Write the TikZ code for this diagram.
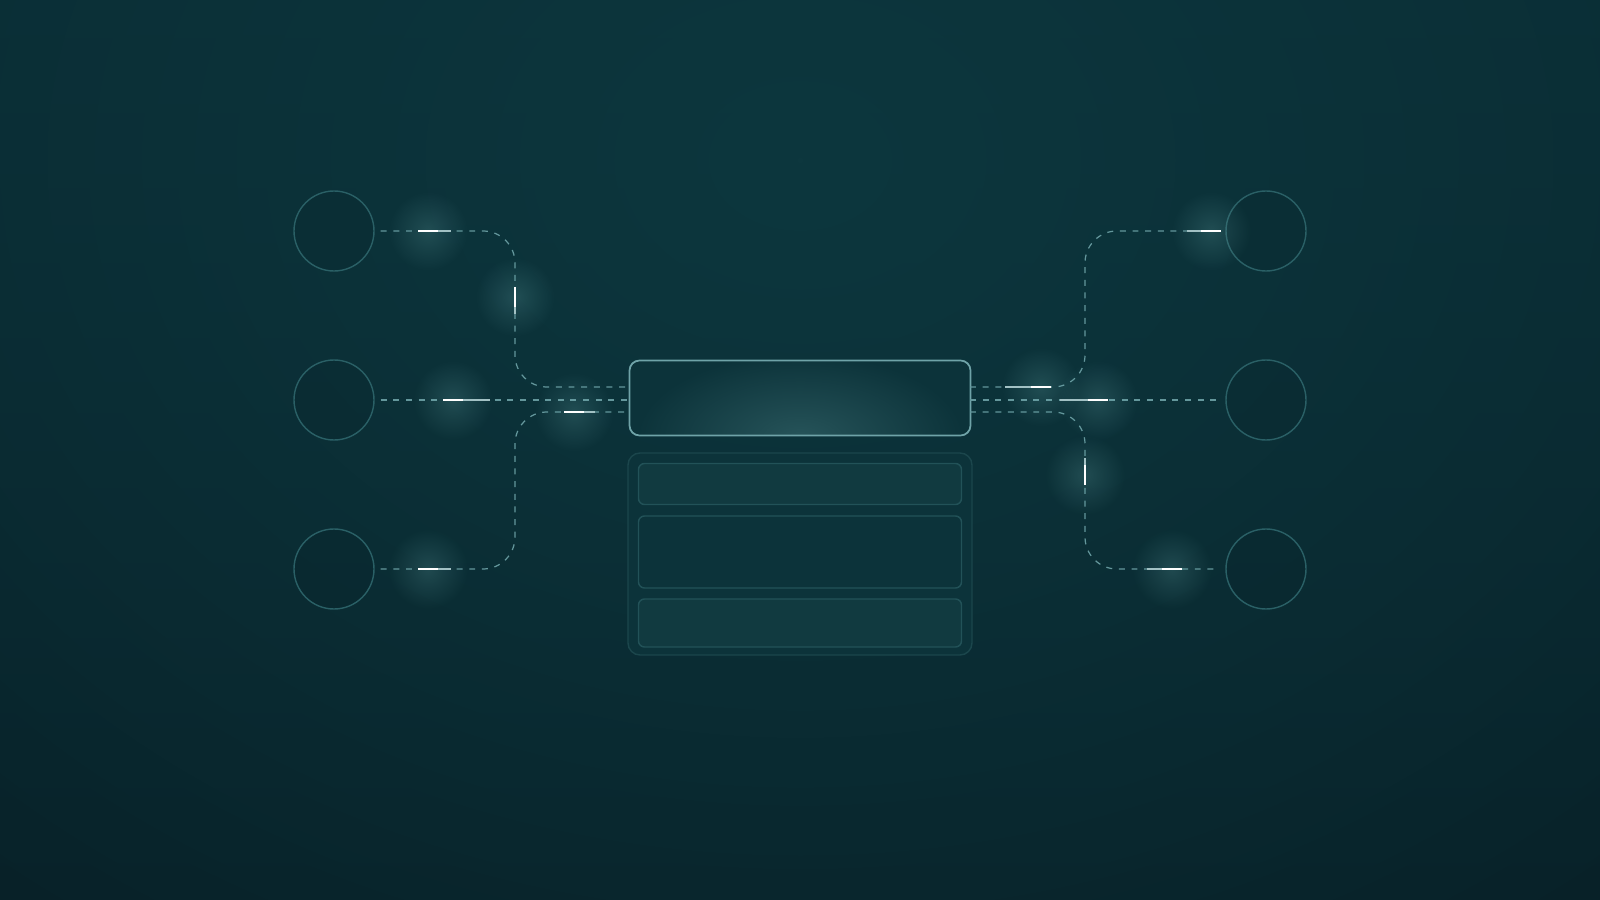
\documentclass[tikz,border=0pt]{standalone}
\usetikzlibrary{fadings}
\definecolor{bgtop}{HTML}{092931}
\definecolor{bgbot}{HTML}{071D24}
\definecolor{bgglow}{HTML}{0D373E}
\definecolor{wire}{HTML}{64979C}
\definecolor{ring}{HTML}{2A6066}
\definecolor{frame}{HTML}{6FA3A8}
\definecolor{panel}{HTML}{0C333A}
\definecolor{panelline}{HTML}{1B464C}
\definecolor{rowfill}{HTML}{113A40}
\definecolor{rowline}{HTML}{225258}
\definecolor{halocol}{HTML}{6FB0B2}
\tikzfading[name=halofade, inner color=transparent!0, outer color=transparent!100]
\begin{document}
\begin{tikzpicture}[x=0.1mm, y=-0.1mm,
  hub/.style={circle, draw=ring, line width=.4pt, fill=bgbot, fill opacity=.15, draw opacity=1, minimum size=8mm, inner sep=0pt},
  core/.style={rectangle, rounded corners=1mm, draw=frame, line width=.5pt, minimum width=34.1mm, minimum height=7.5mm},
  tray/.style={rectangle, rounded corners=1.2mm, draw=panelline, line width=.4pt, fill=panel, minimum width=34.4mm, minimum height=20.2mm},
  slot/.style={rectangle, rounded corners=.6mm, draw=rowline, line width=.4pt, minimum width=32.3mm},
  link/.style={draw=wire, line width=.35pt, dash pattern=on 1.7pt off 1.9pt, rounded corners=3.2mm},
  spark/.style={draw=white, line width=.65pt},
  trail/.style={draw=wire!60!white, line width=.5pt},
  halo/.style={fill=halocol, opacity=.22, path fading=halofade}]
\useasboundingbox (0,0) rectangle (1600,900);
% background
\shade[top color=bgtop, bottom color=bgbot] (0,0) rectangle (1600,900);
\fill[bgglow, path fading=halofade] (800,160) ellipse [x radius=1500, y radius=1150];
% outer circles
\node[hub] (l1) at (334,231) {};
\node[hub] (l2) at (334,400) {};
\node[hub] (l3) at (334,569) {};
\node[hub] (r1) at (1266,231) {};
\node[hub] (r2) at (1266,400) {};
\node[hub] (r3) at (1266,569) {};
% lower panel
\node[tray] (tray) at (800,554) {};
\node[slot, fill=rowfill, minimum height=4.1mm] (row1) at (800,484) {};
\node[slot, minimum height=7.2mm] (row2) at (800,552) {};
\node[slot, fill=rowfill, minimum height=4.8mm] (row3) at (800,623) {};
% main box
\fill[panel, rounded corners=1mm] (630,361) rectangle (970,435);
\begin{scope}
\clip[rounded corners=1mm] (630,361) rectangle (970,435);
\fill[halocol!45!panel, opacity=.6, path fading=halofade] (800,438) ellipse [x radius=165, y radius=85];
\end{scope}
\node[core] (core) at (800,398) {};
% inlets and buses
\coordinate (inL1) at (630,387);
\coordinate (inL2) at (630,400);
\coordinate (inL3) at (630,412);
\coordinate (inR1) at (970,387);
\coordinate (inR2) at (970,400);
\coordinate (inR3) at (970,412);
\coordinate (busL) at (515,400);
\coordinate (busR) at (1085,400);
% connectors
\draw[link, shorten <=.6mm] (l1.east) -| (inL1 -| busL) -- (inL1);
\draw[link, shorten <=.6mm] (l2.east) -- (inL2);
\draw[link, shorten <=.6mm] (l3.east) -| (inL3 -| busL) -- (inL3);
\draw[link, shorten >=.6mm] (inR1) -- (inR1 -| busR) |- (r1.west);
\draw[link, shorten >=.6mm] (inR2) -- (r2.west);
\draw[link, shorten >=.6mm] (inR3) -- (inR3 -| busR) |- (r3.west);
% pulses
\foreach \ax/\ay/\bx/\by/\cx/\cy in {418/231/438/231/451/231, 515/287/515/307/515/314,
  443/400/463/400/490/400, 418/569/438/569/451/569, 564/412/584/412/595/412,
  1051/387/1031/387/1005/387, 1108/400/1088/400/1060/400, 1085/485/1085/465/1085/458,
  1182/569/1162/569/1147/569, 1221/231/1201/231/1187/231}{
  \fill[halo] ({(\ax+\bx)/2},{(\ay+\by)/2}) circle (40);
  \draw[trail] (\bx,\by) -- (\cx,\cy);
  \draw[spark] (\ax,\ay) -- (\bx,\by);
}
\end{tikzpicture}
\end{document}
